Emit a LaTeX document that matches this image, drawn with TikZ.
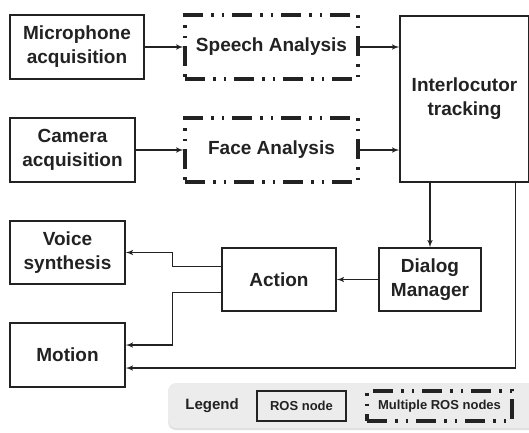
\documentclass[tikz,border=0pt]{standalone}
\usepackage{fontspec}
\setmainfont{Liberation Sans}
\usetikzlibrary{arrows,shadows}

\definecolor{ink}{HTML}{222222}
\definecolor{legendgray}{HTML}{ECECEC}

\begin{document}
\begin{tikzpicture}[x=1pt,y=-1pt]
        \tikzset{rosnode/.style = {shape=rectangle,draw=ink,line width=1.5pt,text=ink,
                align=center,font=\fontsize{19}{24}\selectfont\bfseries,inner sep=0pt}}
        \tikzset{multinode/.style = {rosnode,line width=3.2pt,
                dash pattern=on 20pt off 8pt on 2.5pt off 8pt on 2.5pt off 8pt}}
        \tikzset{edge/.style = {->,> = latex',draw=ink,line width=1.5pt}}
        \tikzset{small/.style = {font=\fontsize{13}{15}\selectfont\bfseries}}

        \useasboundingbox (0,0) rectangle (529,432);

        % legend background
        \fill[legendgray,rounded corners=8pt,drop shadow={opacity=0.25,shadow xshift=0pt,shadow yshift=-2pt}]
            (168,383) rectangle (538,428);

        % vertices
        \node[rosnode, minimum width=134, minimum height=64] (mic) at (77,47) {Microphone\\acquisition};
        \node[multinode, minimum width=173, minimum height=64] (speech) at (271.5,47) {Speech Analysis};
        \node[rosnode, minimum width=125, minimum height=64] (cam) at (72.5,150) {Camera\\acquisition};
        \node[multinode, minimum width=173, minimum height=64] (face) at (271.5,150) {Face Analysis};
        \node[rosnode, minimum width=129, minimum height=166, anchor=north] (track) at (464.5,15) {};
        \node[text=ink, align=center, font=\fontsize{19}{24}\selectfont\bfseries] (tracklbl) at (464.5,99) {Interlocutor\\tracking};
        \node[rosnode, minimum width=102, minimum height=63] (dialog) at (430,279.5) {Dialog\\Manager};
        \node[rosnode, minimum width=114, minimum height=63] (action) at (279,279.5) {Action};
        \node[rosnode, minimum width=115, minimum height=63] (voice) at (67.5,252.5) {Voice\\synthesis};
        \node[rosnode, minimum width=115, minimum height=64] (motion) at (67.5,355) {Motion};

        % legend
        \node[text=ink, font=\fontsize{15}{17}\selectfont\bfseries] (legend) at (212,406) {Legend};
        \node[rosnode, small, minimum width=89, minimum height=30] (legros) at (301.5,406) {ROS node};
        \node[multinode, small, minimum width=145, minimum height=30] (legmulti) at (439.5,406) {Multiple ROS nodes};

        %edges
        \draw[edge] (mic) to (speech);
        \draw[edge] (cam) to (face);
        \draw[edge] (speech.east) to (speech.east -| track.west);
        \draw[edge] (face.east) to (face.east -| track.west);
        \draw[edge] (dialog.north |- track.south) to (dialog.north);
        \draw[edge] (dialog) to (action);
        \draw[edge] ([yshift=13pt]action.west) -- ++(-49,0) |- (voice.east);
        \draw[edge] ([yshift=-13pt]action.west) -- ++(-49,0) |- ([yshift=10pt]motion.east);
        \coordinate (trkout) at ([xshift=51pt]track.south);
        \draw[edge] (trkout) |- ([yshift=-13pt]motion.east);

    \end{tikzpicture}
\end{document}
